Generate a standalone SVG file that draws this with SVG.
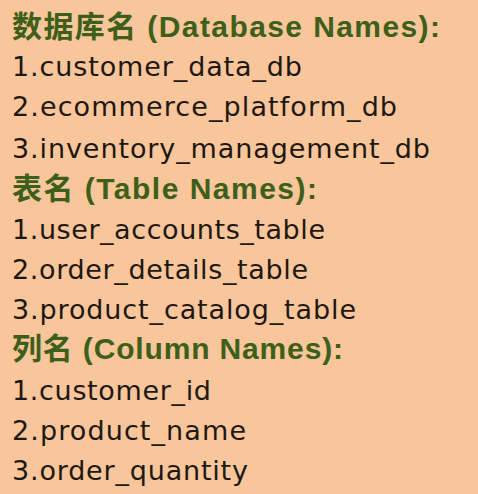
<svg xmlns="http://www.w3.org/2000/svg" width="478" height="494" viewBox="0 0 478 494">
<style>
.h{font-family:"Liberation Sans","Noto Sans CJK SC",sans-serif;font-weight:bold;font-size:30px;fill:#3d5f19}
.b{font-family:"DejaVu Sans","Noto Sans CJK SC",sans-serif;font-size:27px;fill:#1e1812}
</style>
<rect x="0" y="0" width="478" height="494" fill="#f9c59b"/>
<g id="databases">
<text class="h" x="12" y="37" textLength="428" lengthAdjust="spacing">数据库名 (Database Names):</text>
<text class="b" x="12" y="76" textLength="290" lengthAdjust="spacing">1.customer_data_db</text>
<text class="b" x="12" y="116" textLength="385" lengthAdjust="spacing">2.ecommerce_platform_db</text>
<text class="b" x="12" y="158" textLength="418" lengthAdjust="spacing">3.inventory_management_db</text>
</g>
<g id="tables">
<text class="h" x="12" y="199" textLength="305" lengthAdjust="spacing">表名 (Table Names):</text>
<text class="b" x="12" y="239" textLength="313" lengthAdjust="spacing">1.user_accounts_table</text>
<text class="b" x="12" y="279" textLength="296" lengthAdjust="spacing">2.order_details_table</text>
<text class="b" x="12" y="319" textLength="344" lengthAdjust="spacing">3.product_catalog_table</text>
</g>
<g id="columns">
<text class="h" x="12" y="359" textLength="331" lengthAdjust="spacing">列名 (Column Names):</text>
<text class="b" x="12" y="400" textLength="199" lengthAdjust="spacing">1.customer_id</text>
<text class="b" x="12" y="440" textLength="234" lengthAdjust="spacing">2.product_name</text>
<text class="b" x="12" y="480" textLength="236" lengthAdjust="spacing">3.order_quantity</text>
</g>
</svg>
